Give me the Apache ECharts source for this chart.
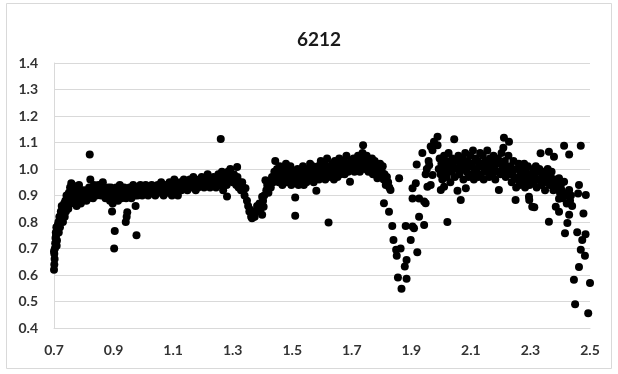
<!DOCTYPE html>
<html>
<head>
<meta charset="utf-8">
<script src="https://cdn.jsdelivr.net/npm/echarts@6/dist/echarts.min.js"></script>
<style>
html,body{margin:0;padding:0;background:#fff;}
#chart{width:618px;height:374px;}
</style>
</head>
<body>
<div id="chart"></div>
<script>
var title = "6212";
var xTicks = [0.7, 0.9, 1.1, 1.3, 1.5, 1.7, 1.9, 2.1, 2.3, 2.5];
var yTicks = [0.4, 0.5, 0.6, 0.7, 0.8, 0.9, 1.0, 1.1, 1.2, 1.3, 1.4];

var segA = [[0.700,0.62],[0.701,0.64],[0.702,0.66],[0.701,0.68],[0.703,0.70],[0.700,0.69],[0.704,0.72],[0.705,0.74],[0.706,0.76],[0.708,0.78],[0.707,0.75],[0.709,0.71],[0.710,0.73],[0.712,0.77],[0.713,0.79],[0.715,0.80],[0.716,0.76],[0.718,0.82],[0.720,0.78],[0.721,0.80],[0.723,0.84],[0.725,0.81],[0.726,0.86],[0.728,0.83],[0.730,0.80],[0.732,0.85],[0.734,0.87],[0.736,0.82],[0.738,0.88],[0.740,0.84],[0.742,0.90],[0.744,0.86],[0.746,0.88],[0.748,0.85],[0.750,0.91],[0.752,0.87],[0.754,0.93],[0.756,0.89],[0.758,0.946],[0.760,0.90]];

var segB = [[0.762,0.94],[0.764,0.88],[0.766,0.91],[0.768,0.87],[0.770,0.93],[0.772,0.89],[0.774,0.91],[0.776,0.86],[0.778,0.92],[0.780,0.88],[0.782,0.90],[0.784,0.94],[0.786,0.89],[0.788,0.91],[0.790,0.87],[0.792,0.92],[0.794,0.90],[0.796,0.88],[0.798,0.91],[0.800,0.89],[0.803,0.92],[0.806,0.90],[0.809,0.88],[0.812,0.91],[0.815,0.89],[0.818,0.93],[0.820,0.91],[0.822,0.96],[0.82,1.055],[0.825,0.90],[0.828,0.92],[0.831,0.89],[0.834,0.94],[0.837,0.91],[0.840,0.93],[0.843,0.90],[0.846,0.92],[0.849,0.94],[0.852,0.91],[0.855,0.93],[0.858,0.90],[0.861,0.92],[0.864,0.95],[0.867,0.91],[0.870,0.93],[0.873,0.89],[0.876,0.92],[0.879,0.90],[0.882,0.93]];

var segC = [[0.885,0.91],[0.888,0.88],[0.891,0.93],[0.894,0.90],[0.897,0.87],[0.900,0.92],[0.895,0.84],[0.904,0.766],[0.902,0.70],[0.903,0.89],[0.906,0.91],[0.909,0.93],[0.912,0.90],[0.915,0.88],[0.918,0.92],[0.921,0.94],[0.924,0.91],[0.927,0.89],[0.930,0.92],[0.933,0.90],[0.936,0.93],[0.939,0.91],[0.942,0.89],[0.946,0.837],[0.941,0.80],[0.944,0.82],[0.948,0.92],[0.951,0.90],[0.954,0.93],[0.957,0.91],[0.960,0.89],[0.963,0.92],[0.966,0.94],[0.969,0.91],[0.974,0.86],[0.977,0.75],[0.972,0.90],[0.975,0.93],[0.978,0.92],[0.981,0.90],[0.984,0.93],[0.987,0.91],[0.990,0.94],[0.993,0.92],[0.996,0.90],[1.000,0.93],[1.004,0.91],[1.008,0.94],[1.012,0.92],[1.016,0.90],[1.020,0.93],[1.024,0.91],[1.028,0.94],[1.032,0.92],[1.036,0.93],[1.040,0.90],[1.044,0.92],[1.048,0.94],[1.052,0.91],[1.056,0.93],[1.060,0.95],[1.064,0.92],[1.068,0.90],[1.072,0.93],[1.076,0.94],[1.080,0.91],[1.084,0.93],[1.088,0.95],[1.092,0.92],[1.096,0.90],[1.100,0.93],[1.104,0.96],[1.108,0.92],[1.112,0.94],[1.116,0.90],[1.120,0.93],[1.124,0.95],[1.128,0.92],[1.132,0.94],[1.136,0.96],[1.140,0.93],[1.144,0.95],[1.148,0.92],[1.152,0.94],[1.156,0.96],[1.160,0.93],[1.164,0.95],[1.168,0.97],[1.172,0.94],[1.176,0.92],[1.180,0.95],[1.184,0.93],[1.188,0.96],[1.192,0.94],[1.196,0.97],[1.200,0.95],[1.204,0.93],[1.208,0.96],[1.212,0.94],[1.216,0.98],[1.220,0.95],[1.224,0.93],[1.228,0.96],[1.232,0.94],[1.236,0.97],[1.240,0.95],[1.244,0.93],[1.248,0.96],[1.252,0.98],[1.256,0.94],[1.260,0.96],[1.26,1.113],[1.264,0.99],[1.268,0.92],[1.272,0.95],[1.276,0.97],[1.280,0.94],[1.281,0.896],[1.284,0.99],[1.288,0.96],[1.292,1.00],[1.296,0.97],[1.300,0.95],[1.304,0.98],[1.308,0.96],[1.312,0.94],[1.315,1.008],[1.316,0.97],[1.320,0.93],[1.324,0.95],[1.328,0.92]];

var segD = [[1.332,0.95],[1.336,0.93],[1.340,0.90],[1.343,0.927],[1.348,0.88],[1.352,0.86],[1.356,0.84],[1.359,0.846],[1.362,0.82],[1.365,0.814],[1.368,0.83],[1.370,0.82],[1.374,0.82],[1.378,0.84],[1.382,0.86],[1.386,0.84],[1.390,0.87],[1.394,0.85],[1.399,0.827],[1.404,0.858],[1.399,0.895],[1.402,0.88],[1.406,0.90],[1.410,0.958],[1.413,0.92],[1.416,0.94],[1.420,0.91],[1.424,0.95],[1.428,0.93],[1.432,0.97],[1.436,0.95],[1.440,0.99],[1.443,1.03],[1.446,0.96],[1.449,1.00],[1.452,0.98]];

var segE = [[1.455,0.95],[1.458,1.01],[1.461,0.97],[1.464,0.99],[1.467,0.94],[1.470,1.00],[1.473,0.96],[1.476,0.98],[1.479,1.02],[1.482,0.95],[1.485,0.97],[1.488,0.99],[1.491,0.96],[1.494,1.01],[1.497,0.94],[1.500,0.97],[1.503,0.99],[1.506,0.95],[1.51,0.892],[1.51,0.824],[1.512,0.96],[1.515,0.98],[1.518,1.00],[1.521,0.94],[1.524,0.97],[1.527,0.95],[1.530,0.99],[1.533,0.96],[1.536,1.01],[1.539,0.94],[1.542,0.97],[1.545,0.99],[1.548,0.95],[1.551,1.00],[1.554,0.97],[1.557,0.99],[1.560,1.02],[1.563,0.96],[1.566,0.98],[1.569,1.01],[1.572,0.95],[1.575,0.97],[1.578,1.00],[1.581,0.918],[1.584,0.98],[1.587,1.01],[1.590,0.96],[1.593,0.99],[1.596,1.03],[1.599,0.97],[1.602,1.00],[1.605,0.98],[1.608,1.02],[1.611,0.96],[1.614,1.00],[1.617,1.04],[1.620,0.98],[1.622,0.798],[1.625,1.01],[1.628,0.97],[1.631,0.99],[1.634,1.02],[1.637,1.00],[1.640,0.96],[1.643,1.03],[1.646,0.99],[1.649,1.01],[1.652,0.97],[1.655,1.00],[1.658,1.04],[1.661,0.98],[1.664,1.02],[1.667,0.99],[1.670,1.01],[1.673,1.03],[1.676,0.98],[1.679,1.00],[1.682,1.05],[1.685,1.02],[1.688,0.99],[1.691,1.01],[1.694,0.952],[1.697,1.03],[1.700,1.00],[1.703,1.02],[1.706,1.04],[1.709,0.99],[1.712,1.01],[1.715,1.03],[1.718,1.00],[1.721,1.05],[1.724,1.02],[1.727,0.99],[1.730,1.04],[1.733,1.01],[1.736,1.06],[1.738,1.09],[1.741,1.03],[1.744,1.00],[1.747,1.02],[1.750,1.05],[1.753,1.01],[1.756,0.99],[1.759,1.03],[1.762,1.00],[1.765,1.02],[1.768,1.04],[1.771,0.98],[1.774,1.01],[1.777,1.03],[1.780,0.99],[1.783,1.01],[1.786,0.965],[1.789,1.00],[1.792,0.98],[1.795,1.02],[1.798,0.97],[1.801,0.99],[1.804,1.01],[1.807,0.96],[1.810,0.98],[1.814,0.94],[1.818,0.97],[1.822,0.95],[1.826,0.93],[1.830,0.921]];

var segF = [[1.808,0.871],[1.825,0.839],[1.836,0.785],[1.840,0.732],[1.849,0.695],[1.851,0.673],[1.855,0.591],[1.859,0.965],[1.864,0.70],[1.867,0.548],[1.878,0.632],[1.881,0.785],[1.884,0.657],[1.884,0.586],[1.898,0.732],[1.904,0.783],[1.909,0.776],[1.920,0.686],[1.926,0.82],[1.943,0.789],[1.904,0.889],[1.926,0.889],[1.943,0.877],[1.948,0.871],[1.904,0.927],[1.915,0.946],[1.918,1.017],[1.937,1.06],[1.965,1.085],[1.971,1.071],[1.976,1.103],[1.988,1.122],[1.988,1.09],[1.960,1.014],[1.971,0.977],[1.965,0.94],[1.954,0.933],[1.948,0.98],[1.952,1.00],[1.958,1.03]];

var segG = [[1.992,1.00],[1.995,1.04],[1.998,0.98],[1.999,0.921],[2.001,1.02],[2.004,0.96],[2.007,1.01],[2.010,0.933],[2.010,1.05],[2.013,0.99],[2.016,1.03],[2.019,0.97],[2.021,0.80],[2.022,1.00],[2.025,1.06],[2.028,1.02],[2.031,0.95],[2.034,0.99],[2.037,1.04],[2.040,1.01],[2.044,1.112],[2.046,0.97],[2.049,1.03],[2.052,1.00],[2.055,0.918],[2.058,1.05],[2.061,0.98],[2.064,1.02],[2.066,0.883],[2.069,1.00],[2.072,1.04],[2.075,0.96],[2.078,1.01],[2.081,1.06],[2.083,0.927],[2.086,0.99],[2.089,1.03],[2.092,0.97],[2.095,1.01],[2.098,1.05],[2.101,0.98],[2.104,1.02],[2.107,1.07],[2.110,0.96],[2.113,1.00],[2.116,1.04],[2.119,0.99],[2.122,1.03],[2.125,0.97],[2.128,1.01],[2.131,1.06],[2.134,0.98],[2.137,1.02],[2.140,1.05],[2.143,0.96],[2.146,1.00],[2.149,1.03],[2.152,0.99],[2.155,1.07],[2.158,1.01],[2.161,0.97],[2.164,1.04],[2.167,1.00],[2.170,1.02],[2.173,0.98],[2.176,1.05],[2.179,1.01],[2.182,0.96],[2.185,1.03],[2.188,0.99],[2.191,1.04],[2.194,0.921],[2.197,1.02],[2.200,0.98],[2.203,1.06],[2.206,1.00],[2.209,1.08],[2.211,1.118],[2.214,1.03],[2.217,0.97],[2.220,1.01],[2.223,0.99],[2.226,1.05],[2.228,1.103]];

var segH = [[2.231,0.98],[2.234,1.01],[2.237,0.95],[2.240,0.99],[2.243,1.03],[2.246,0.97],[2.250,0.883],[2.252,0.93],[2.255,1.00],[2.258,0.96],[2.261,1.02],[2.264,0.94],[2.267,0.98],[2.270,1.00],[2.273,0.95],[2.276,0.97],[2.279,1.02],[2.282,0.93],[2.285,0.99],[2.288,0.96],[2.291,1.01],[2.295,0.895],[2.296,0.883],[2.297,0.94],[2.300,0.98],[2.303,0.96],[2.306,0.858],[2.309,1.00],[2.312,0.95],[2.313,0.856],[2.315,0.97],[2.318,1.01],[2.321,0.93],[2.324,0.99],[2.327,0.96],[2.330,1.00],[2.334,1.059],[2.337,0.94],[2.340,0.97],[2.343,0.99],[2.346,0.95],[2.349,0.92],[2.352,0.98],[2.355,0.96],[2.358,1.00],[2.362,1.065],[2.362,0.801],[2.365,0.94],[2.368,0.97],[2.371,0.99],[2.374,0.95],[2.377,0.92],[2.379,1.046],[2.382,0.96],[2.385,0.858],[2.388,0.93],[2.391,0.95],[2.396,0.965],[2.396,0.888],[2.396,0.839],[2.399,0.91],[2.402,0.94],[2.405,0.92],[2.408,0.89],[2.413,1.088],[2.413,0.952],[2.416,0.758],[2.419,0.90],[2.422,0.87],[2.424,0.796],[2.427,0.91],[2.430,1.055],[2.430,0.921],[2.430,0.827],[2.433,0.88],[2.436,0.90],[2.440,0.86],[2.446,0.582],[2.450,0.49],[2.457,0.761],[2.460,0.908],[2.463,0.94],[2.463,0.63],[2.469,1.088],[2.469,0.695],[2.474,0.732],[2.478,0.832],[2.483,0.673],[2.485,0.754],[2.486,0.902],[2.494,0.456],[2.500,0.57],[2.502,0.698]];

var points = [].concat(segA, segB, segC, segD, segE, segF, segG, segH);

var chart = echarts.init(document.getElementById('chart'), null, {renderer: 'canvas'});
var labelFont = {fontFamily: 'Lato', fontWeight: 'bold', fontSize: 14, color: '#333333'};
chart.setOption({
  animation: false,
  backgroundColor: '#ffffff',
  title: {
    text: title,
    left: 314,
    top: 25,
    textAlign: 'center',
    textStyle: {fontFamily: 'Lato', fontWeight: 'bold', fontSize: 19, color: '#1a1a1a'}
  },
  grid: {left: 54, right: 28, top: 63, bottom: 46, containLabel: false},
  xAxis: {
    type: 'value',
    min: 0.7,
    max: 2.5,
    axisLine: {show: true, lineStyle: {color: '#d9d9d9', width: 1}},
    axisTick: {show: false},
    splitLine: {show: false},
    axisLabel: Object.assign({
      customValues: xTicks,
      margin: 15,
      formatter: function (v) { return v.toFixed(1); }
    }, labelFont)
  },
  yAxis: {
    type: 'value',
    min: 0.4,
    max: 1.4,
    interval: 0.1,
    axisLine: {show: true, lineStyle: {color: '#d9d9d9', width: 1}},
    axisTick: {show: false},
    splitLine: {show: true, lineStyle: {color: '#d9d9d9', width: 1}},
    axisLabel: Object.assign({
      margin: 16,
      formatter: function (v) { return v.toFixed(1); }
    }, labelFont)
  },
  graphic: [{
    type: 'rect',
    shape: {x: 6.5, y: 3.5, width: 605, height: 365},
    style: {fill: 'none', stroke: '#d9d9d9', lineWidth: 1},
    silent: true,
    z: -1
  }],
  series: [{
    type: 'scatter',
    data: points,
    symbol: 'circle',
    symbolSize: 8,
    itemStyle: {color: '#000000', opacity: 1}
  }]
});
</script>
</body>
</html>
